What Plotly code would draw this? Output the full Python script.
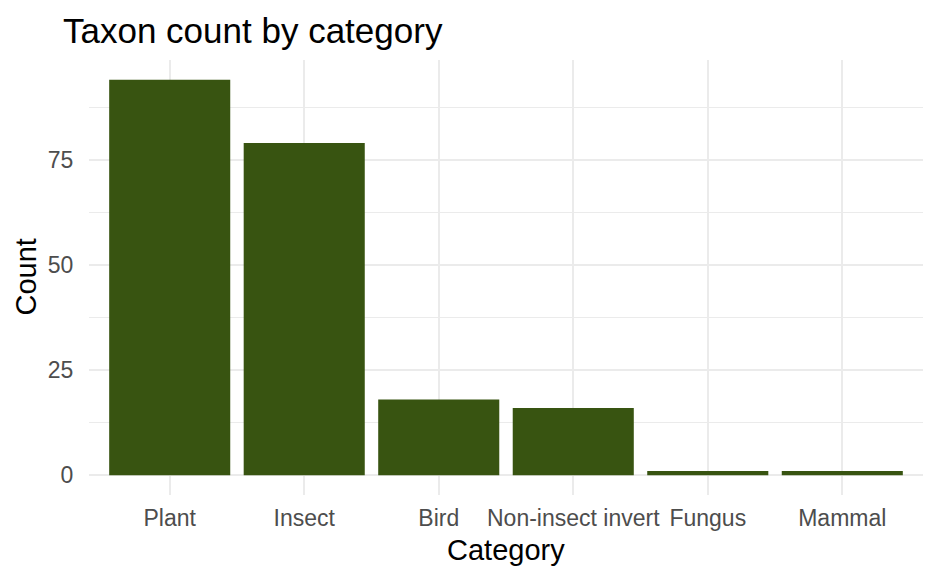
import plotly.graph_objects as go

categories = ["Plant", "Insect", "Bird", "Non-insect invert", "Fungus", "Mammal"]
counts = [94, 79, 18, 16, 1, 1]
y_ticks = [0, 25, 50, 75]

bar_color = "#385411"
grid_color = "#EBEBEB"
font_family = "Liberation Sans, Arial, sans-serif"

fig = go.Figure(go.Bar(x=categories, y=counts, marker_color=bar_color,
                       marker_line_width=0, width=0.9))

fig.update_layout(
    width=938, height=579,
    paper_bgcolor="white", plot_bgcolor="white",
    margin=dict(l=89, r=15, t=60, b=84, autoexpand=False),
    font=dict(family=font_family),
    title=dict(text="Taxon count by category", x=63/938, xanchor="left",
               y=1 - 31/579, yanchor="middle", pad=dict(l=0, t=0),
               font=dict(size=35, color="black")),
    showlegend=False,
    annotations=[
        dict(text="Category", xref="paper", yref="paper", x=0.5, y=-55/435,
             xanchor="center", yanchor="middle", showarrow=False,
             font=dict(size=29, color="black")),
        dict(text="Count", xref="paper", yref="paper", x=-64/834, y=0.5,
             xanchor="center", yanchor="middle", showarrow=False, textangle=-90,
             font=dict(size=29, color="black")),
    ],
)
fig.update_xaxes(
    range=[-0.6, 5.6], showgrid=True, gridcolor=grid_color, gridwidth=2,
    zeroline=False, showline=False, ticks="outside", ticklen=2,
    tickcolor="rgba(0,0,0,0)", automargin=False,
    tickfont=dict(size=23, color="#4D4D4D"),
)
fig.update_yaxes(
    range=[-4.7, 98.7], tickvals=y_ticks, ticktext=[str(v) for v in y_ticks],
    showgrid=True, gridcolor=grid_color, gridwidth=2, zeroline=False,
    showline=False, ticks="outside", ticklen=10, tickcolor="rgba(0,0,0,0)",
    automargin=False,
    tickfont=dict(size=23, color="#4D4D4D"),
    minor=dict(tickvals=[12.5, 37.5, 62.5, 87.5], showgrid=True,
               gridcolor=grid_color, gridwidth=1, ticks=""),
)

fig.write_html("out.html", config={"displayModeBar": False},
               post_script="document.body.style.margin='0';document.body.style.overflow='hidden';")
